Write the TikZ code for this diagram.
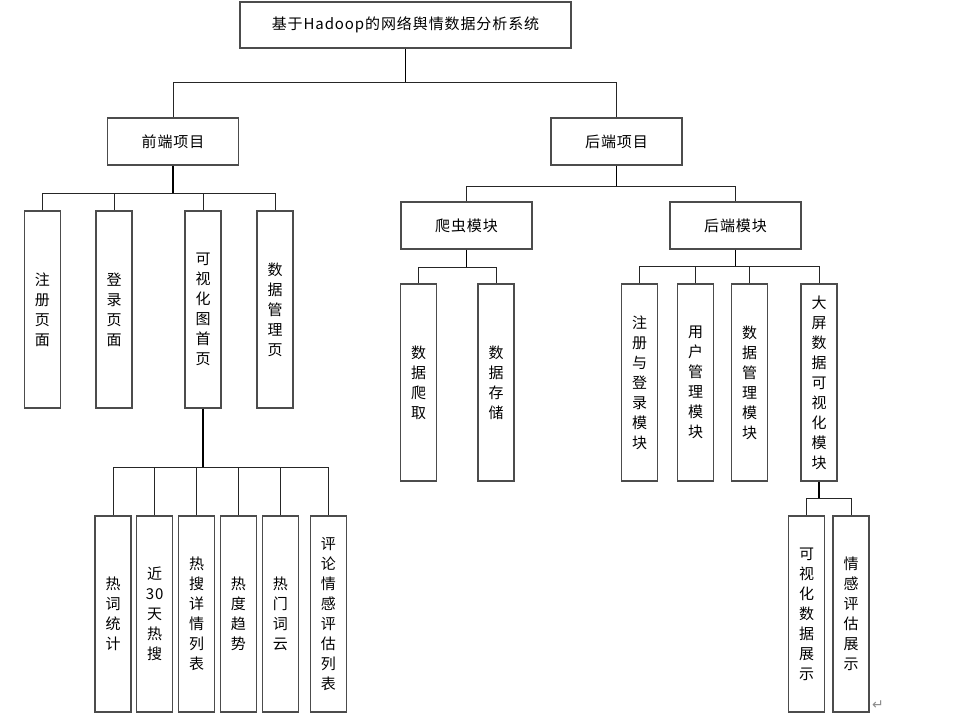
\documentclass[tikz,border=0pt]{standalone}
\usepackage{fontspec}
\newfontfamily\cjk{Noto Sans CJK SC}[LetterSpace=6]
\newfontfamily\symf{DejaVu Sans}
\begin{document}
\begin{tikzpicture}[x=1pt,y=-1pt,
  box/.style={draw=black!70, line width=1.1pt, fill=white, inner sep=0pt,
    font=\cjk\fontsize{15}{20}\selectfont, align=center},
  hbox/.style={box, minimum width=131pt, minimum height=47pt},
  vbox/.style={box, minimum width=36pt, minimum height=197pt},
  conn/.style={draw=black!85, line width=0.9pt},
  stem/.style={draw=black, line width=1.3pt}]
\useasboundingbox (0,0) rectangle (958,716);
% nodes
\node[box, minimum width=331pt, minimum height=46pt] (top) at (405.5,25) {基于Hadoop的网络舆情数据分析系统};
\node[hbox] (fe) at (173,141.5) {前端项目};
\node[hbox] (be) at (616.5,141.5) {后端项目};
\node[vbox] (f1) at (42.3,309.5) {注\\册\\页\\面};
\node[vbox] (f2) at (114,309.5) {登\\录\\页\\面};
\node[vbox] (f3) at (203,309.5) {可\\视\\化\\图\\首\\页};
\node[vbox] (f4) at (275,309.5) {数\\据\\管\\理\\页};
\node[hbox] (cr) at (466.5,225.5) {爬虫模块};
\node[hbox] (bm) at (735.5,225.5) {后端模块};
\node[vbox] (c1) at (418.7,382.5) {数\\据\\爬\\取};
\node[vbox] (c2) at (496,382.5) {数\\据\\存\\储};
\node[vbox] (b1) at (639.7,382.5) {注\\册\\与\\登\\录\\模\\块};
\node[vbox] (b2) at (695.7,382.5) {用\\户\\管\\理\\模\\块};
\node[vbox] (b3) at (749.7,382.5) {数\\据\\管\\理\\模\\块};
\node[vbox] (b4) at (819,382.5) {大\\屏\\数\\据\\可\\视\\化\\模\\块};
\node[vbox, minimum height=196pt] (v1) at (806.7,614) {可\\视\\化\\数\\据\\展\\示};
\node[vbox, minimum height=196pt] (v2) at (851,614) {情\\感\\评\\估\\展\\示};
\node[vbox, minimum height=196pt] (d1) at (113,614) {热\\词\\统\\计};
\node[vbox, minimum height=196pt] (d2) at (154.7,614) {近\\30\\天\\热\\搜};
\node[vbox, minimum height=196pt] (d3) at (196.7,614) {热\\搜\\详\\情\\列\\表};
\node[vbox, minimum height=196pt] (d4) at (238.3,614) {热\\度\\趋\\势};
\node[vbox, minimum height=196pt] (d5) at (280.3,614) {热\\门\\词\\云};
\node[vbox, minimum height=196pt] (d6) at (328.3,614) {评\\论\\情\\感\\评\\估\\列\\表};
\node[text=black!45, font=\symf\fontsize{14}{14}\selectfont, inner sep=0pt] (ret) at (878,705) {↵};
% connectors
\draw[stem] (top.south) -- (top.south |- 0,82);
\draw[conn] (fe.north) |- (be.north |- 0,82) -- (be.north);
\draw[stem] (fe.south) -- (fe.south |- 0,193);
\draw[conn] (f1.north) |- (f4.north |- 0,193) -- (f4.north);
\draw[conn] (f2.north) -- (f2.north |- 0,193);
\draw[conn] (f3.north) -- (f3.north |- 0,193);
\draw[stem] (be.south) -- (be.south |- 0,186);
\draw[conn] (cr.north) |- (bm.north |- 0,186) -- (bm.north);
\draw[stem] (cr.south) -- (cr.south |- 0,267);
\draw[conn] (c1.north) |- (c2.north |- 0,267) -- (c2.north);
\draw[stem] (bm.south) -- (bm.south |- 0,266);
\draw[conn] (b1.north) |- (b4.north |- 0,266) -- (b4.north);
\draw[conn] (b2.north) -- (b2.north |- 0,266);
\draw[conn] (b3.north) -- (b3.north |- 0,266);
\draw[stem] (b4.south) -- (b4.south |- 0,498);
\draw[conn] (v1.north) |- (v2.north |- 0,498) -- (v2.north);
\draw[stem] (f3.south) -- (f3.south |- 0,467);
\draw[conn] (d1.north) |- (d6.north |- 0,467) -- (d6.north);
\foreach \n in {d2,d3,d4,d5} \draw[conn] (\n.north) -- (\n.north |- 0,467);
\end{tikzpicture}
\end{document}
